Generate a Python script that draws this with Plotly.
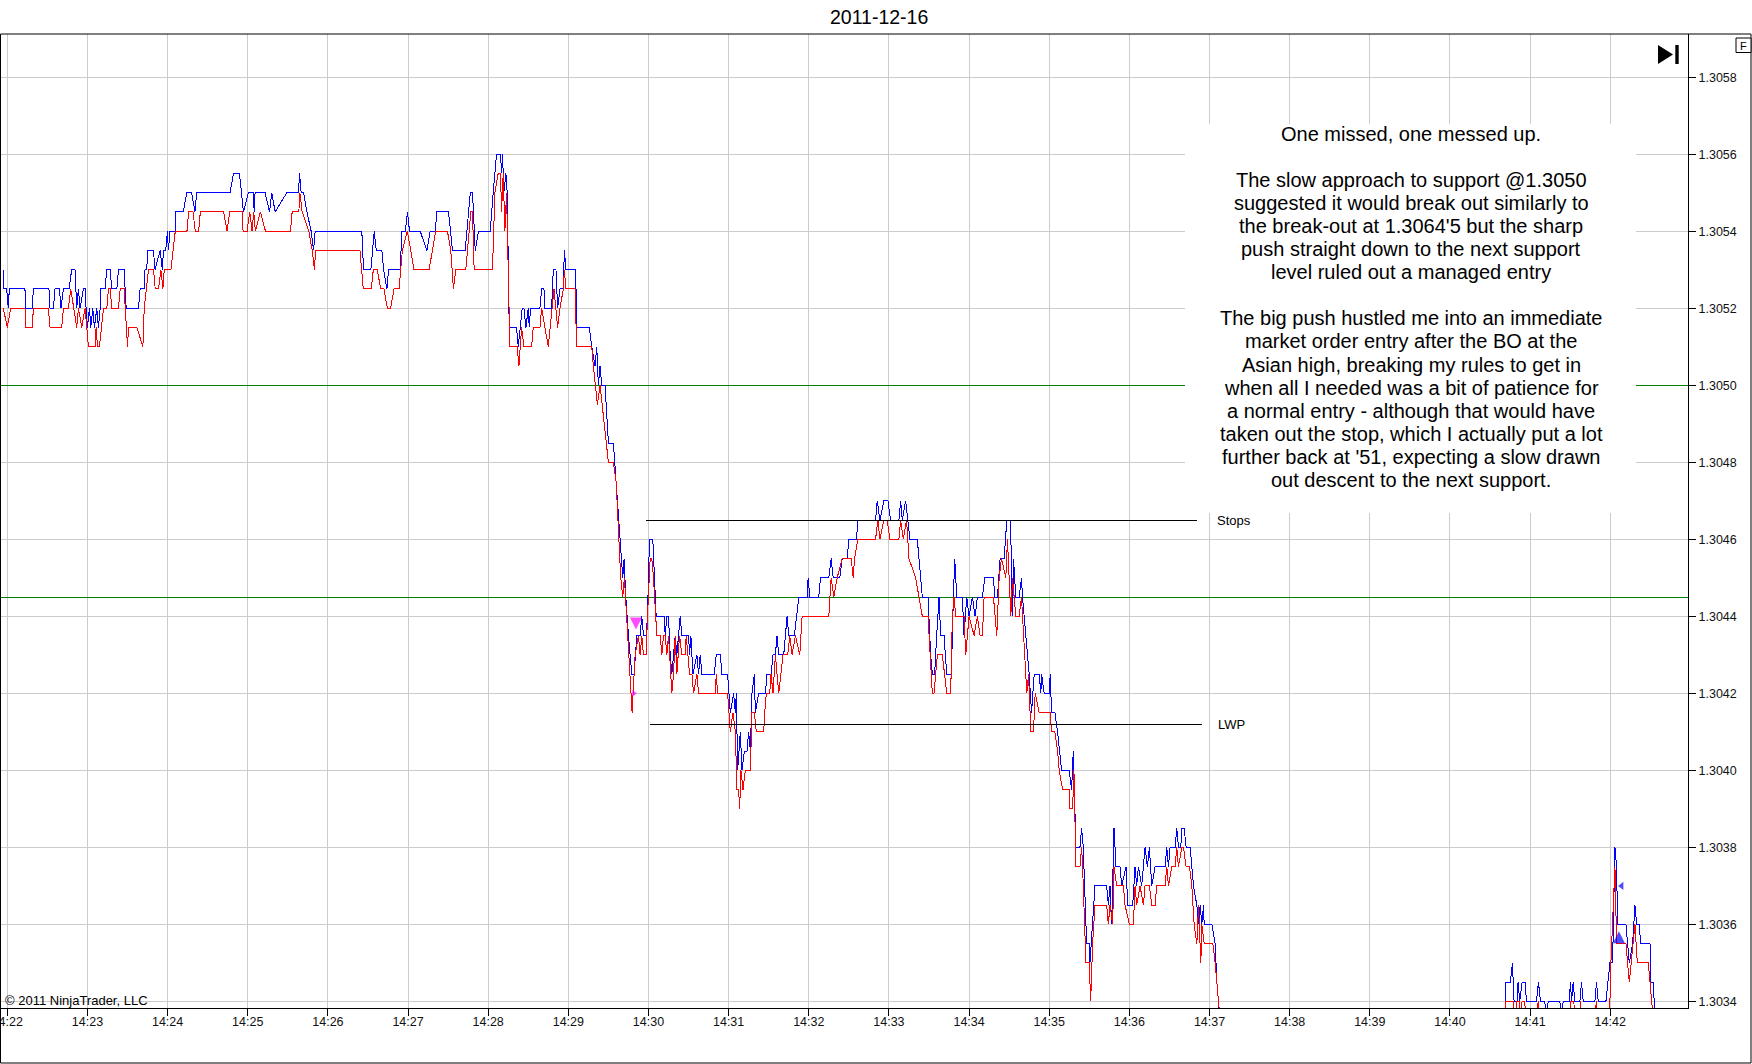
import plotly.graph_objects as go
import pandas as pd

BASE = pd.Timestamp("2011-12-16 14:22:00")

# ---- data (seconds after 14:22:00, price) ----
ask_t = [-3, -2.5, -0.5, 0.75, 1.5, 13.2, 14, 18.7, 19.5, 31.2, 32, 34.5, 35.7, 39, 40.2, 42, 46.2, 48.2, 50.7, 52,
         53.2, 54.5, 57, 58.2, 59, 60, 61.5, 62.5, 64, 65.2, 67, 68.2, 69.5, 70, 73.2, 74.5, 77, 78.2, 82, 83.2,
         87.4, 89, 98.2, 99.4, 102.4, 103.1, 104.4, 105.1, 109.4, 110.6, 114.4, 116.1, 116.9, 118.6, 119.9, 120.6,
         121.8, 125.6, 126.1, 131.8, 134.3, 138, 140.5, 141.8, 166.8, 169.3, 173.8, 175.5, 176.8, 180.5, 184.3,
         184.8, 185.5, 193, 196.3, 198, 200.5, 209.3, 218, 218.8, 220, 221.8, 224.3, 227.5, 229.3, 230.5, 265.4,
         266.7, 272.2, 274.7, 276.2, 280.4, 281.7, 284.2, 285.4, 294.1, 295.4, 297.9, 299.6, 301.1, 309.1, 314.1,
         316.6, 320.4, 321.6, 330.3, 331.6, 333.3, 342.8, 344.1, 346.6, 348.3, 350.3, 352.8, 361.5,
         363.75, 365, 366.25, 369.25, 370, 370.75, 371.75, 373.25, 374.25, 375.75, 381.25, 382.5, 385.5, 386.75,
         388.25, 390, 390.75, 391.75, 398.75, 400, 401.75, 402.5, 407.5, 408.75, 410.75, 412, 413.75, 416.25, 417,
         418.25, 425.5, 426.25, 435.75, 437.5, 440, 441.25, 442.5, 443.75, 445, 447.5, 450, 453.75, 455.75, 459.25,
         460.75, 461.75, 463, 465, 467.5, 469.25, 471.25, 473.75, 475, 476.25, 478.25,
         479.25, 480.75, 483.25, 484.25, 485.75, 491.75, 492.5, 493.75, 495, 496.25, 497.5, 500, 501.25, 503.75,
         505, 510, 510.75, 511.75, 513.25, 516.25, 517.5, 518.75, 520, 529.25, 530.75, 533.75, 535, 539.25, 541.25,
         543.75, 545, 545.75, 546.75, 548.75, 550, 551.75, 553.75, 555, 556.25, 557.5, 559.25, 560, 562.5, 567.5,
         568.75, 571.75, 573.25, 575, 576.25, 577.5, 581.25, 583.75, 585, 589.25, 590.75, 592.5, 598.75, 599.5,
         600.75, 607.5, 608.75, 615, 616.75, 618.25, 623.25, 625, 628.75, 630, 635.75, 636.75, 650, 651.25, 653.25,
         656.25, 659.25, 661.25, 667.5, 668.75, 670, 672.5, 675.75, 681.25, 682.5, 685, 689.25, 691.25, 692.5,
         694.25, 695.75, 697.5, 698.75, 701.25, 703.25, 706.75, 708.25, 709.25, 710.75, 715, 716.25, 718.25, 720,
         722.5, 724.5, 726.25, 730, 731.75, 738.25, 739.25, 741.25, 743.25, 746.25, 748.25, 750.75, 751.75, 752.5,
         753.25, 755, 757.5, 759.25, 760, 763.75, 765, 766.75, 768.75, 772.5, 773.75, 774.25, 776.25, 780, 780.75,
         781.75, 784.25, 786.25, 789.25, 795,
         796.75, 798, 800, 803, 804.25, 805.5, 808, 810, 810.5, 814.25, 823, 824.25, 825.5, 826.75, 828.5, 830,
         833, 834.25, 837.5, 838.75, 842.5, 844.25, 845.5, 846.75, 849.25, 851.75, 853.5, 855, 856.75, 859.25,
         866.75, 868, 869.25, 870.5, 874.25, 875.5, 876.75, 878.5, 879.25, 881, 882.5, 885.5, 886.75, 888, 890.5,
         891.75, 893, 894.25, 895.5, 896, 901.75, 904.25, 905.5, 906.75, 909,
         960, 1040, 1100, 1118,
         1121, 1121.75, 1125.25, 1126.75, 1128, 1130.25, 1131, 1132.25, 1134, 1136.25, 1137.25, 1144.75, 1146.25,
         1147.75, 1151, 1152.25, 1153.5, 1162.25, 1163.5, 1164.75, 1169.25, 1170.25, 1171, 1172.25, 1173.5,
         1177.25, 1178.5, 1179.75, 1188.5, 1189.75, 1191, 1196.75, 1198.5, 1199.75, 1201.75, 1203.5, 1204.75,
         1205.5, 1211.75, 1214.25, 1216.75, 1218.5, 1219.75, 1221.75, 1222.75, 1229.75, 1230.25, 1232.25, 1233.5,
         1236]
ask_v = [1.3053, 1.30525, 1.30525, 1.3052, 1.30525, 1.30525, 1.3052, 1.3052, 1.30525, 1.30525, 1.3052, 1.3052,
         1.30525, 1.30525, 1.3052, 1.30525, 1.30525, 1.3053, 1.3053, 1.3052, 1.30525, 1.3052, 1.30525, 1.30525,
         1.3052, 1.30515, 1.3052, 1.30515, 1.3052, 1.30515, 1.3052, 1.30515, 1.3052, 1.30525, 1.30525, 1.3053,
         1.3053, 1.30525, 1.30525, 1.3053, 1.3053, 1.3052, 1.3052, 1.30525, 1.30525, 1.3053, 1.3053, 1.30535,
         1.30535, 1.3053, 1.30535, 1.3053, 1.30535, 1.30535, 1.3054, 1.30535, 1.3054, 1.3054, 1.30545, 1.30545,
         1.3055, 1.3055, 1.30545, 1.3055, 1.3055, 1.30555, 1.30555, 1.3055, 1.30545, 1.3055, 1.3055, 1.30545,
         1.3055, 1.3055, 1.30545, 1.3055, 1.30545, 1.3055, 1.3055, 1.30555, 1.3055, 1.3055, 1.30545, 1.3054,
         1.30535, 1.3054, 1.3054, 1.3053, 1.3053, 1.3054, 1.30535, 1.30535, 1.3053, 1.30525, 1.3053, 1.3053,
         1.3054, 1.3054, 1.30545, 1.3054, 1.3054, 1.30535, 1.3054, 1.3054, 1.30545, 1.30545, 1.3054, 1.30535,
         1.30535, 1.3054, 1.3055, 1.3055, 1.30535, 1.3054, 1.3054,
         1.3055, 1.30555, 1.3056, 1.3056, 1.30555, 1.3056, 1.3055, 1.30555, 1.3055, 1.30515, 1.30515, 1.3051,
         1.3052, 1.3052, 1.30515, 1.3052, 1.30515, 1.3052, 1.3052, 1.30525, 1.30525, 1.3052, 1.3052, 1.3053,
         1.3053, 1.3052, 1.30525, 1.30525, 1.30535, 1.3053, 1.3053, 1.30515, 1.30515, 1.3051, 1.30505, 1.3051,
         1.3050, 1.30505, 1.3050, 1.3050, 1.30485, 1.30485, 1.30475, 1.30455, 1.3045, 1.30455, 1.30445, 1.30435,
         1.30425, 1.30425, 1.30435, 1.30435, 1.3044, 1.30435, 1.30435,
         1.3044, 1.3046, 1.3046, 1.3045, 1.3044, 1.3044, 1.30435, 1.3044, 1.3044, 1.3043, 1.30425, 1.30435, 1.3043,
         1.3044, 1.30435, 1.30435, 1.3043, 1.30435, 1.30425, 1.3043, 1.30425, 1.3043, 1.30425, 1.30425, 1.3043,
         1.3043, 1.30425, 1.30425, 1.30415, 1.3042, 1.30415, 1.3042, 1.3040, 1.3041, 1.3040, 1.30405, 1.30405,
         1.3041, 1.30405, 1.3042, 1.30425, 1.30415, 1.3042, 1.3042, 1.30425, 1.30425, 1.3043, 1.3043, 1.30435,
         1.3043, 1.3043, 1.3044, 1.30435, 1.30435, 1.3044, 1.30445, 1.30445, 1.3045, 1.30445, 1.30445, 1.3045,
         1.3045, 1.30455, 1.3045, 1.3045, 1.30455, 1.30455, 1.3046, 1.3046, 1.30465, 1.30465, 1.3047, 1.30465,
         1.3047, 1.3047, 1.30465, 1.30465, 1.3047, 1.30465, 1.3047, 1.3046, 1.3046, 1.30455, 1.30445, 1.30445,
         1.3043, 1.30425, 1.30425, 1.30435, 1.30445, 1.30435, 1.30435, 1.30425, 1.30425, 1.30445, 1.30455,
         1.30445, 1.30445, 1.30435, 1.30445, 1.3044, 1.30445, 1.3044, 1.30445, 1.30445, 1.3045, 1.3045, 1.30445,
         1.30445, 1.30455, 1.30455, 1.30465, 1.30465, 1.30455, 1.3044, 1.30455, 1.30445, 1.30445, 1.3045,
         1.30445, 1.3043, 1.30425, 1.30415, 1.30425, 1.30425, 1.3042, 1.30425, 1.3042, 1.3042, 1.30425, 1.30415,
         1.30415, 1.3041, 1.3040, 1.3040,
         1.30395, 1.30405, 1.3038, 1.3038, 1.30385, 1.3038, 1.30355, 1.30355, 1.3035, 1.3037, 1.3037, 1.30365,
         1.3037, 1.3036, 1.30385, 1.30375, 1.30375, 1.3037, 1.30375, 1.30365, 1.30365, 1.30375, 1.3037, 1.30375,
         1.3037, 1.3038, 1.30375, 1.3038, 1.3037, 1.30375, 1.30375, 1.3038, 1.30375, 1.3038, 1.3038, 1.30385,
         1.3038, 1.3038, 1.30385, 1.30385, 1.3038, 1.3038, 1.30375, 1.3037, 1.30365, 1.3036, 1.30365, 1.3036,
         1.30365, 1.3036, 1.3036, 1.30355, 1.30345, 1.3034, 1.3032,
         1.3030, 1.3029, 1.3031, 1.30325,
         1.30335, 1.30345, 1.30345, 1.3035, 1.3034, 1.3034, 1.30345, 1.3034, 1.30345, 1.30345, 1.3034, 1.3034,
         1.30345, 1.3034, 1.3034, 1.30335, 1.3034, 1.3034, 1.30335, 1.3034, 1.3034, 1.30345, 1.3034, 1.30345,
         1.3034, 1.3034, 1.30345, 1.3034, 1.3034, 1.30345, 1.3034, 1.3034, 1.30345, 1.3035, 1.3035, 1.3038,
         1.30375, 1.3036, 1.3036, 1.3035, 1.30355, 1.30365, 1.3036, 1.3036, 1.30355, 1.30355, 1.30345, 1.30345,
         1.30335, 1.3032]

bid_t = [-3, 0, 2.5, 13.25, 14, 18.75, 19.5, 30.75, 32, 40.75, 42, 45.75, 47.5, 50, 52, 53.25, 55.75, 58.25, 60.75,
         65.75, 66.5, 67.5, 69, 72, 74.5, 75.75, 77, 78.25, 83.25, 84.5, 87.5, 90, 90.75, 97, 101.5, 102.5, 105.75,
         109.5, 110.75, 113.25, 115, 116.5, 117.5, 122.5, 125.75, 134.5, 135.75, 139, 140.75, 143.25, 144.5, 162,
         164.5, 166.5, 175.75, 176.5, 179.5, 181.5, 183.25, 184.5, 185.75, 189.5, 193.25, 212, 213.25, 218.25, 219,
         220.75, 225.75, 228.25, 230, 230.75, 264, 266.5, 272.5, 274, 277, 279.5, 282, 284.5, 287, 289.5, 293.25,
         295.75, 299.5, 304.5, 315.75, 320.75, 329.5, 332, 334, 335.75, 343.25, 347, 348.25, 349.5, 363.25,
         365, 367.5, 369.25, 370, 371.25, 372.5, 373.75, 376.25, 381.75, 383, 385, 386.75, 392.5, 393.75, 398.75,
         400, 405, 407.5, 409.25, 412, 413.75, 416.25, 417, 418.25, 425, 426.25, 437.5, 438.75, 440, 441.75, 443.75,
         446.75, 448.75, 450, 453.75, 455.75, 459.25, 460.75, 462, 465, 467.75, 470, 472.5, 473.75, 475, 476.25,
         478.25,
         479.25, 481.25, 482.5, 483.75, 486.25, 488.75, 490, 491.25, 492.5, 493.75, 495, 497.5, 498.75, 500,
         501.25, 503.25, 505, 507.5, 508.25, 510.75, 512.5, 513.75, 516.25, 517.5, 530, 530.75, 531.75, 539.25,
         541.25, 543.25, 545, 546.25, 547.5, 548.25, 549.25, 550.75, 552.5, 556.25, 557.5, 559.25, 560.75, 566.25,
         567, 568.25, 570.75, 571.75, 573.25, 575, 577.5, 580.75, 584.25, 585.75, 587.5, 590, 593.25, 595, 615,
         616.75, 618.75, 621.25, 625, 631.75, 633.25, 634.25, 636.75, 650, 651.75, 653.25, 656.25, 658.75, 660.75,
         667.5, 668.75, 670.75, 673.25, 675, 680, 682.5, 685, 689.25, 692.5, 693.75, 696.25, 700, 703.25, 706.25,
         707.5, 708.75, 710, 716.25, 717.5, 720, 723.75, 726.25, 728.25, 730, 731.25, 738.25, 740.75, 742.5,
         744.25, 747.5, 748.75, 751.25, 752.5, 755, 757.5, 759.25, 761.75, 763.25, 764.5, 766.25, 768.25, 769.5,
         772.5, 780.75, 781.75, 784.25, 786.25, 787.5, 790, 795,
         795.5, 797.5, 798.5, 800, 803, 804.25, 805, 807.5, 810, 811, 812.5, 814.25, 823, 824.25, 825.5, 827.5,
         828.5, 830.5, 835.5, 836.75, 840, 843, 844.25, 845.5, 848, 850.5, 851.75, 855, 856.75, 859.25, 860.5,
         866.75, 868, 869.25, 871.75, 874.25, 875.5, 876.75, 879.25, 880.5, 882.5, 885, 886.75, 888.5, 890.5,
         891.75, 893.5, 894.25, 896, 902.5, 904.25, 905.5, 906.75, 908, 910,
         960, 1040, 1100, 1118,
         1121, 1121.75, 1127.25, 1128, 1129.25, 1129.75, 1131.75, 1132.75, 1134, 1136, 1136.75, 1145.25, 1146,
         1146.75, 1169.25, 1170.25, 1172.75, 1173.5, 1176.75, 1177.75, 1178.75, 1188.75, 1189.5, 1190.25, 1199,
         1199.75, 1200.5, 1203.5, 1204.75, 1211.75, 1214.25, 1216.75, 1218.5, 1220.25, 1228.5, 1231, 1232.25, 1236]
bid_v = [1.3052, 1.30515, 1.3052, 1.3052, 1.30515, 1.30515, 1.3052, 1.3052, 1.30515, 1.30515, 1.3052, 1.3052,
         1.30525, 1.3052, 1.30515, 1.3052, 1.30515, 1.3052, 1.3051, 1.3051, 1.30515, 1.3051, 1.3051, 1.3052,
         1.3052, 1.30525, 1.30525, 1.3052, 1.3052, 1.30525, 1.30525, 1.3051, 1.30515, 1.30515, 1.3051, 1.3052,
         1.3053, 1.3053, 1.30525, 1.30525, 1.3053, 1.30525, 1.3053, 1.3053, 1.3054, 1.3054, 1.30545, 1.30545,
         1.3054, 1.3054, 1.30545, 1.30545, 1.3054, 1.30545, 1.30545, 1.3054, 1.3054, 1.30545, 1.3054, 1.30545,
         1.3054, 1.30545, 1.3054, 1.3054, 1.30545, 1.30545, 1.3055, 1.30545, 1.3054, 1.30535, 1.3053, 1.30535,
         1.30535, 1.30525, 1.30525, 1.3053, 1.3053, 1.30525, 1.30525, 1.3052, 1.3052, 1.30525, 1.30525, 1.30535,
         1.3054, 1.3053, 1.3053, 1.3054, 1.3054, 1.30535, 1.30525, 1.3053, 1.3053, 1.30545, 1.30545, 1.3053,
         1.3053,
         1.3055, 1.30555, 1.30555, 1.30545, 1.30555, 1.3054, 1.3055, 1.3051, 1.3051, 1.30505, 1.30515, 1.3051,
         1.3051, 1.30515, 1.30515, 1.3052, 1.3051, 1.3052, 1.30525, 1.30515, 1.3052, 1.30525, 1.3053, 1.30525,
         1.30525, 1.3051, 1.3051, 1.30505, 1.3050, 1.30495, 1.3050, 1.3049, 1.30485, 1.3048, 1.3048, 1.30475,
         1.3045, 1.30445, 1.3045, 1.3043, 1.30415, 1.3043, 1.30435, 1.3043, 1.30435, 1.3043, 1.3043,
         1.3044, 1.30455, 1.30455, 1.3045, 1.30435, 1.30435, 1.3043, 1.30435, 1.30435, 1.3043, 1.30435, 1.3042,
         1.30425, 1.30435, 1.30425, 1.30435, 1.3043, 1.3043, 1.30435, 1.30425, 1.30425, 1.3042, 1.30425, 1.3042,
         1.3042, 1.30425, 1.3042, 1.3042, 1.3041, 1.30415, 1.3041, 1.30395, 1.30395, 1.3039, 1.3040, 1.30395,
         1.3040, 1.3040, 1.30415, 1.30415, 1.3041, 1.3041, 1.30415, 1.3042, 1.3042, 1.30425, 1.3042, 1.3043,
         1.3042, 1.3043, 1.3043, 1.30435, 1.3043, 1.30435, 1.3043, 1.3044, 1.3044, 1.3045, 1.30445, 1.3045,
         1.30455, 1.30455, 1.3045, 1.30455, 1.3046, 1.3046, 1.30465, 1.3046, 1.30465, 1.30465, 1.3046, 1.3046,
         1.30465, 1.3046, 1.30465, 1.30455, 1.3045, 1.30445, 1.3044, 1.3044, 1.3042, 1.3042, 1.3043, 1.3043,
         1.3042, 1.3042, 1.3044, 1.30445, 1.3044, 1.3044, 1.3043, 1.3044, 1.30435, 1.3044, 1.30435, 1.30435,
         1.30445, 1.30445, 1.30435, 1.3045, 1.30455, 1.3045, 1.3046, 1.3044, 1.3045, 1.3044, 1.3044, 1.30445,
         1.3043, 1.3042, 1.30425, 1.3041, 1.3041, 1.3042, 1.30415, 1.30415, 1.3041, 1.3041, 1.30405, 1.3040,
         1.30395, 1.30395,
         1.3039, 1.3039, 1.3040, 1.30375, 1.30375, 1.3038, 1.30375, 1.3035, 1.3035, 1.3034, 1.30355, 1.30365,
         1.30365, 1.3036, 1.30365, 1.3036, 1.30375, 1.3037, 1.3037, 1.30365, 1.3036, 1.3036, 1.3037, 1.30365,
         1.3037, 1.30365, 1.3037, 1.3037, 1.30365, 1.30365, 1.3037, 1.3037, 1.30375, 1.3037, 1.30375, 1.30375,
         1.3038, 1.30375, 1.3038, 1.3038, 1.30375, 1.30375, 1.3037, 1.3036, 1.30355, 1.30365, 1.3035, 1.3036,
         1.30355, 1.30355, 1.3035, 1.30345, 1.3034, 1.30335, 1.3031,
         1.30295, 1.30285, 1.30305, 1.3032,
         1.30335, 1.3034, 1.3034, 1.30335, 1.30335, 1.3034, 1.3034, 1.30335, 1.3034, 1.3034, 1.30335, 1.30335,
         1.3034, 1.30335, 1.30335, 1.3034, 1.3034, 1.30335, 1.30335, 1.3034, 1.30335, 1.30335, 1.3034, 1.30335,
         1.30335, 1.3034, 1.3035, 1.30375, 1.30355, 1.30355, 1.30345, 1.30355, 1.3036, 1.3035, 1.3035, 1.3034,
         1.30335, 1.3032]

support_levels = [1.3050, 1.30445]
line_names = ["Stops", "LWP"]
line_levels = [1.30465, 1.30412]
line_start_t = [478.2, 481.0]
line_end_t = [891.0, 894.7]
label_t = [904.0, 905.2]

exec_t = [470.6, 469.0, 1206.5, 1208.5]
exec_v = [1.304366, 1.3042, 1.303582, 1.3037]
exec_sym = ["arrow-down", "triangle-right", "arrow-up", "triangle-left"]
exec_col = ["#ff00ff", "#ff00ff", "#0000ff", "#0000ff"]
exec_size = [12, 6, 12, 7]

y_ticks = [1.3034, 1.3036, 1.3038, 1.3040, 1.3042, 1.3044, 1.3046, 1.3048, 1.3050, 1.3052, 1.3054, 1.3056, 1.3058]
y_range = [1.303383, 1.305912]
x_range_s = [-5.46, 1258.2]

note_lines = [
    "One missed, one messed up.",
    "",
    "The slow approach to support @1.3050",
    "suggested it would break out similarly to",
    "the break-out at 1.3064'5 but the sharp",
    "push straight down to the next support",
    "level ruled out a managed entry",
    "",
    "The big push hustled me into an immediate",
    "market order entry after the BO at the",
    "Asian high, breaking my rules to get in",
    "when all I needed was a bit of patience for",
    "a normal entry - although that would have",
    "taken out the stop, which I actually put a lot",
    "further back at '51, expecting a slow drawn",
    "out descent to the next support.",
]


def ts(secs):
    return [BASE + pd.Timedelta(seconds=s) for s in secs]


W, H = 1752, 1064
ML, MR, MT, MB = 0, 64, 34, 56
PW, PH = W - ML - MR, H - MT - MB


def px(xp):
    return (xp - ML) / PW


def py(yp):
    return (H - MB - yp) / PH


FONT = "Liberation Sans, Arial, sans-serif"

fig = go.Figure()

# support levels (green) drawn first so price lines sit on top
for lv in support_levels:
    fig.add_trace(go.Scatter(x=ts(x_range_s), y=[lv, lv], mode="lines",
                             line=dict(color="#008000", width=1), hoverinfo="skip"))

fig.add_trace(go.Scatter(x=ts(ask_t), y=ask_v, mode="lines", line=dict(color="#0000ff", width=1),
                         name="Ask", hoverinfo="skip"))
fig.add_trace(go.Scatter(x=ts(bid_t), y=bid_v, mode="lines", line=dict(color="#ff0000", width=1),
                         name="Bid", hoverinfo="skip"))

for i in range(len(line_levels)):
    fig.add_trace(go.Scatter(x=ts([line_start_t[i], line_end_t[i]]), y=[line_levels[i]] * 2, mode="lines",
                             line=dict(color="black", width=1), hoverinfo="skip"))
    fig.add_annotation(x=ts([label_t[i]])[0], y=line_levels[i], xref="x", yref="y", text=line_names[i],
                       showarrow=False, xanchor="left", yanchor="middle",
                       font=dict(family=FONT, size=13, color="black"))

fig.add_trace(go.Scatter(x=ts(exec_t), y=exec_v, mode="markers",
                         marker=dict(symbol=exec_sym, color=exec_col, size=exec_size, line=dict(width=0)),
                         hoverinfo="skip"))

shapes = []
# white note box (covers grid and support lines)
shapes.append(dict(type="rect", xref="paper", yref="paper", x0=px(1185), x1=px(1636), y0=py(513), y1=py(124),
                   fillcolor="white", line=dict(width=0), layer="above"))
# outer frame
shapes.append(dict(type="rect", xref="paper", yref="paper", x0=px(0.5), x1=px(1751), y0=py(1063), y1=py(34),
                   line=dict(color="black", width=1), fillcolor="rgba(0,0,0,0)", layer="above"))
# jump-to-end icon
shapes.append(dict(type="path", xref="paper", yref="paper",
                   path=f"M {px(1658)},{py(45)} L {px(1673)},{py(54.5)} L {px(1658)},{py(64)} Z",
                   fillcolor="black", line=dict(width=0), layer="above"))
shapes.append(dict(type="rect", xref="paper", yref="paper", x0=px(1675.3), x1=px(1678.7), y0=py(64), y1=py(45),
                   fillcolor="black", line=dict(width=0), layer="above"))
# F box
shapes.append(dict(type="rect", xref="paper", yref="paper", x0=px(1736), x1=px(1751), y0=py(52.5), y1=py(38),
                   line=dict(color="black", width=1), fillcolor="white", layer="above"))

annotations = []
annotations.append(dict(x=px(878.5), y=py(17), xref="paper", yref="paper", text="2011-12-16", showarrow=False,
                        xanchor="center", yanchor="middle", font=dict(family=FONT, size=19.5, color="black")))
for i, line in enumerate(note_lines):
    if not line:
        continue
    annotations.append(dict(x=px(1411), y=py(134 + 23.05 * i), xref="paper", yref="paper", text=line,
                            showarrow=False, xanchor="center", yanchor="middle",
                            font=dict(family=FONT, size=20, color="black")))
annotations.append(dict(x=px(2.5), y=py(1000), xref="paper", yref="paper", text="© 2011 NinjaTrader, LLC",
                        showarrow=False, xanchor="left", yanchor="middle",
                        font=dict(family=FONT, size=13, color="black")))
annotations.append(dict(x=px(1743.5), y=py(45.5), xref="paper", yref="paper", text="F", showarrow=False,
                        xanchor="center", yanchor="middle", font=dict(family=FONT, size=11, color="black")))

for a in annotations:
    fig.add_annotation(**a)

fig.update_layout(
    template="none",
    width=W, height=H,
    margin=dict(l=ML, r=MR, t=MT, b=MB, pad=0),
    paper_bgcolor="white", plot_bgcolor="white",
    showlegend=False,
    shapes=shapes,
    xaxis=dict(type="date", range=ts(x_range_s), tick0=BASE, dtick=60000, tickformat="%H:%M",
               showgrid=True, gridcolor="#cccccc", gridwidth=1, zeroline=False,
               showline=True, linecolor="black", linewidth=1,
               ticks="outside", ticklen=7, tickcolor="black", tickwidth=1, ticklabeloverflow="allow",
               ticklabelstandoff=-5,
               tickfont=dict(family=FONT, size=12.5, color="#111111"), automargin=False),
    yaxis=dict(side="right", range=y_range, tickvals=y_ticks, tickformat=".4f",
               showgrid=True, gridcolor="#cccccc", gridwidth=1, zeroline=False,
               showline=True, linecolor="black", linewidth=1,
               ticks="outside", ticklen=7, tickcolor="black", tickwidth=1,
               tickfont=dict(family=FONT, size=12.5, color="#111111"), automargin=False),
)

fig.write_html(
    "out.html",
    config={"displayModeBar": False},
    post_script=(
        "document.body.style.margin='0px';document.body.style.overflow='hidden';"
        "document.querySelectorAll('.scatterlayer path.js-line').forEach(function(p){"
        "p.style.shapeRendering='crispEdges';});"
    ),
)
